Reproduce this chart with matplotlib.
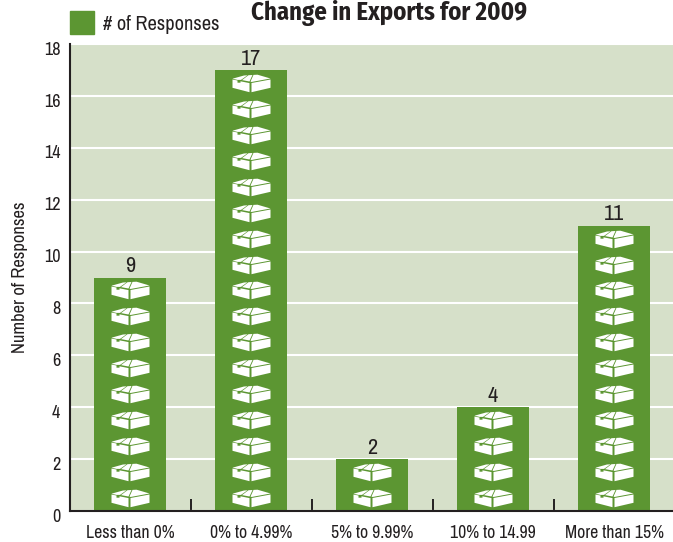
import matplotlib
matplotlib.use('Agg')
import matplotlib.pyplot as plt
from matplotlib.path import Path
from matplotlib.patches import Rectangle
from matplotlib.transforms import ScaledTranslation

narrow = ['Archivo Narrow', 'Liberation Sans']
bold = ['Fira Sans Condensed', 'Liberation Sans']

categories = ['Less than 0%', '0% to 4.99%', '5% to 9.99%', '10% to 14.99', 'More than 15%']
responses = [9, 17, 2, 4, 11]
y_ticks = [0, 2, 4, 6, 8, 10, 12, 14, 16, 18]

green = '#5c9632'
panel = '#d6e0c9'
dark = '#231f20'

# box icon in pixels around its centre, y up. gaps between the pieces show the bar colour
box_pieces = [
    [(-19, 4), (-14, 3), (-14, 0.8), (-11, 0.8), (-11, 2.2), (-2, 0.4), (-2, -8.7), (-19, -4.3)],
    [(0, 0.5), (19, 4), (19, -4.3), (0, -8.7)],
    [(-19, 4.8), (-7.5, 8), (-4, 8.2), (-10.5, 3.6), (-14, 3.6)],
    [(-3, 8.3), (1, 8.5), (-2, 2.0), (-9.5, 3.4)],
    [(2, 8.6), (6, 8.8), (19, 5), (0, 1.5), (-1, 2.0)],
]


def box_marker():
    verts = []
    codes = []
    for piece in box_pieces:
        verts += piece + [piece[0]]
        codes += [Path.MOVETO] + [Path.LINETO] * (len(piece) - 1) + [Path.CLOSEPOLY]
    return Path(verts, codes)


fig = plt.figure(figsize=(6.73, 5.42), dpi=100)
ax = fig.add_axes([70 / 673, 1 - 511 / 542, 603 / 673, 467 / 542])
ax.set_facecolor(panel)

x = range(len(categories))
ax.set_xlim(-0.496, 4.487)
ax.set_ylim(0, 18)
ax.yaxis.grid(True, color='white', lw=1.5)
ax.set_axisbelow(True)
ax.bar(x, responses, width=0.595, color=green, zorder=2)

# one box for every response
for i, v in enumerate(responses):
    ax.scatter([i] * v, [n + 0.5 for n in range(v)], marker=box_marker(), s=(38 * 0.72) ** 2,
               color='white', linewidths=0, zorder=3)
    ax.text(i, v + 0.05, str(v), ha='center', va='bottom', fontsize=16, family=narrow, color=dark)

for s in ['top', 'right']:
    ax.spines[s].set_visible(False)
for s in ['left', 'bottom']:
    ax.spines[s].set_linewidth(1.5)
    ax.spines[s].set_color(dark)
    ax.spines[s].set_zorder(4)

ax.set_yticks(y_ticks)
ax.set_yticklabels(y_ticks, fontsize=13, family=narrow, color=dark)
ax.tick_params(axis='y', length=0, pad=7)
for label in ax.get_yticklabels():
    label.set_transform(label.get_transform() + ScaledTranslation(0, -3 / 72, fig.dpi_scale_trans))
ax.set_xticks(list(x))
ax.set_xticklabels(categories, fontsize=12.8, family=narrow, color=dark)
ax.tick_params(axis='x', length=0, pad=10)
ax.set_xticks([0.5, 1.5, 2.5, 3.5], minor=True)
ax.tick_params(axis='x', which='minor', direction='in', length=9, width=1.4, color=dark)
ax.set_ylabel('Number of Responses', fontsize=13.4, family=narrow, color=dark, labelpad=11)

fig.text(389 / 673, 1 - 13 / 542, 'Change in Exports for 2009', ha='center', va='center',
         fontsize=17.8, fontweight='bold', family=bold, color=dark)
fig.patches.append(Rectangle((70 / 673, 1 - 34 / 542), 24 / 673, 23 / 542,
                             transform=fig.transFigure, color=green))
fig.text(103 / 673, 1 - 25 / 542, '# of Responses', ha='left', va='center',
         fontsize=14.7, family=narrow, color=dark)

fig.savefig('out.png', dpi=100)
